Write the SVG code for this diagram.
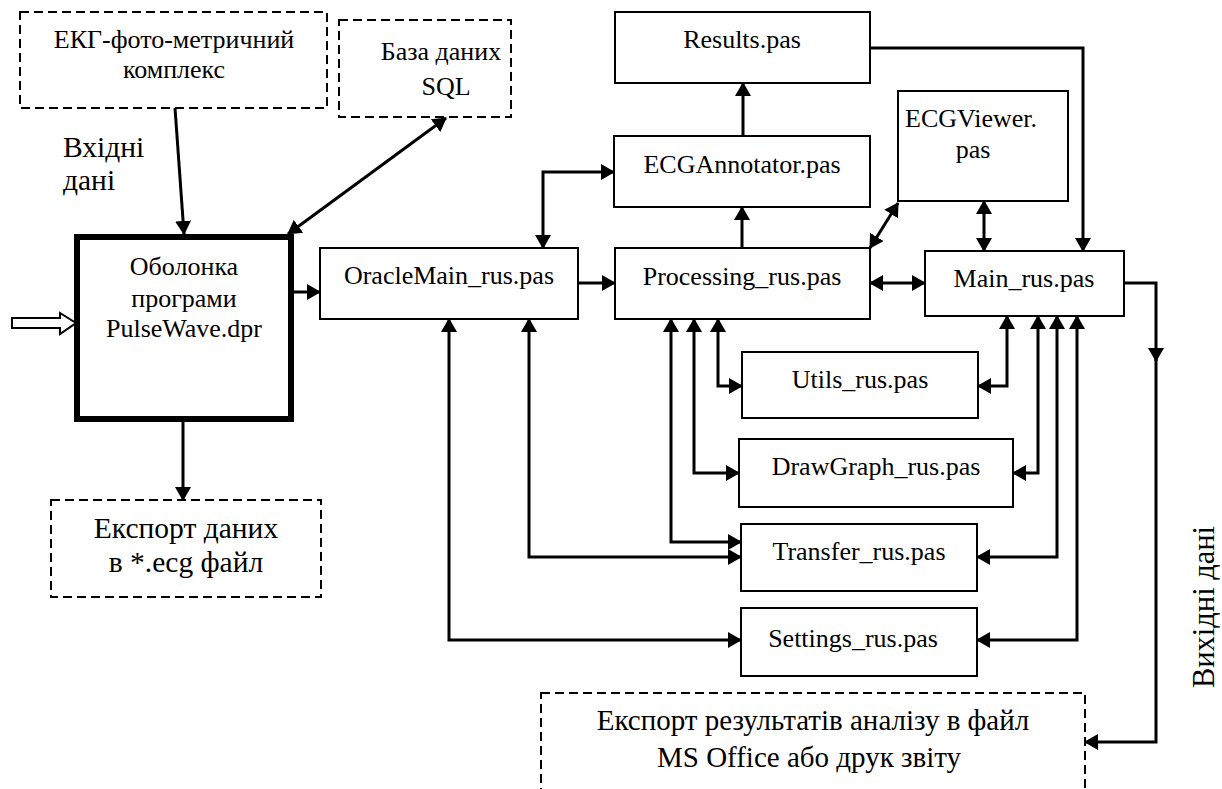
<svg xmlns="http://www.w3.org/2000/svg" width="1222" height="789" viewBox="0 0 1222 789">
<style>
.box{fill:#fff;stroke:#000;stroke-width:2}
.dash{fill:#fff;stroke:#000;stroke-width:2;stroke-dasharray:9 5}
.thick{fill:#fff;stroke:#000;stroke-width:6}
.t{font-family:"Liberation Serif","DejaVu Serif",serif;font-size:26px;fill:#000;text-anchor:middle}
.tl{font-family:"Liberation Serif","DejaVu Serif",serif;font-size:29.5px;fill:#000;text-anchor:middle}
.c{fill:none;stroke:#000;stroke-width:3}
</style>
<defs>
<marker id="ah" viewBox="0 0 14 16" refX="13" refY="8" markerWidth="14" markerHeight="16" markerUnits="userSpaceOnUse" orient="auto-start-reverse"><path d="M0,0 L14,8 L0,16 z" fill="#000"/></marker>
</defs>
<g id="ekg"><rect class="dash" x="20" y="12" width="307" height="96"/><text class="t" x="174" y="48">ЕКГ-фото-метричний</text><text class="t" x="174" y="78">комплекс</text></g>
<g id="db"><rect class="dash" x="339" y="20" width="172" height="97"/><text class="t" x="441" y="60">База даних</text><text class="t" x="446" y="95">SQL</text></g>
<g id="input-label"><text class="tl" x="63" y="157" style="text-anchor:start">Вхідні</text><text class="tl" x="63" y="190" style="text-anchor:start">дані</text></g>
<g id="shell"><rect class="thick" x="77" y="237" width="214" height="182"/><text class="t" x="184" y="275">Оболонка</text><text class="t" x="184" y="307">програми</text><text class="t" x="184" y="337">PulseWave.dpr</text></g>
<g id="input-arrow"><polygon points="12,318 60,318 60,313 76,323 60,334 60,328 12,328" fill="#fff" stroke="#000" stroke-width="2"/></g>
<g id="export-data"><rect class="dash" x="51" y="500" width="270" height="97"/><text class="tl" x="186" y="538">Експорт даних</text><text class="tl" x="186" y="572">в *.ecg файл</text></g>
<g id="oracle"><rect class="box" x="320" y="248" width="258" height="71"/><text class="t" x="449" y="284">OracleMain_rus.pas</text></g>
<g id="results"><rect class="box" x="615" y="12" width="255" height="71"/><text class="t" x="742" y="48">Results.pas</text></g>
<g id="annotator"><rect class="box" x="614" y="136" width="256" height="71"/><text class="t" x="742" y="173">ECGAnnotator.pas</text></g>
<g id="viewer"><rect class="box" x="898" y="91" width="170" height="110"/><text class="t" x="905" y="127" style="text-anchor:start">ECGViewer.</text><text class="t" x="973" y="158">pas</text></g>
<g id="processing"><rect class="box" x="615" y="248" width="255" height="71"/><text class="t" x="742" y="285">Processing_rus.pas</text></g>
<g id="main"><rect class="box" x="925" y="251" width="199" height="65"/><text class="t" x="1024" y="287">Main_rus.pas</text></g>
<g id="utils"><rect class="box" x="742" y="352" width="236" height="66"/><text class="t" x="860" y="388">Utils_rus.pas</text></g>
<g id="drawgraph"><rect class="box" x="739" y="439" width="274" height="68"/><text class="t" x="876" y="475">DrawGraph_rus.pas</text></g>
<g id="transfer"><rect class="box" x="741" y="524" width="236" height="67"/><text class="t" x="859" y="560">Transfer_rus.pas</text></g>
<g id="settings"><rect class="box" x="741" y="608" width="236" height="68"/><text class="t" x="853" y="647">Settings_rus.pas</text></g>
<g id="export-results"><rect class="dash" x="541" y="693" width="544" height="110"/><text class="tl" x="813" y="730" style="font-size:29px">Експорт результатів аналізу в файл</text><text class="tl" x="809" y="767" style="font-size:29px">MS Office або друк звіту</text></g>
<g id="output-label"><text class="tl" transform="translate(1214,607) rotate(-90)" style="font-size:30.5px">Вихідні дані</text></g>
<g id="connectors">
<path class="c" d="M175,108 L184,234" marker-end="url(#ah)"/>
<path class="c" d="M446,118 L288,234" marker-start="url(#ah)" marker-end="url(#ah)"/>
<path class="c" d="M294,292 H320" marker-end="url(#ah)"/>
<path class="c" d="M183,422 V500" marker-end="url(#ah)"/>
<path class="c" d="M578,283 H615" marker-end="url(#ah)"/>
<path class="c" d="M543,248 V172 H614" marker-start="url(#ah)" marker-end="url(#ah)"/>
<path class="c" d="M742,248 V207" marker-end="url(#ah)"/>
<path class="c" d="M743,136 V83" marker-end="url(#ah)"/>
<path class="c" d="M870,248 L898,203" marker-start="url(#ah)" marker-end="url(#ah)"/>
<path class="c" d="M984,201 V251" marker-start="url(#ah)" marker-end="url(#ah)"/>
<path class="c" d="M870,48 H1083 V251" marker-end="url(#ah)"/>
<path class="c" d="M870,283 H925" marker-start="url(#ah)" marker-end="url(#ah)"/>
<path class="c" d="M1124,283 H1156 V361" marker-end="url(#ah)"/>
<path class="c" d="M1156,355 V742 H1085" marker-end="url(#ah)"/>
<path class="c" d="M718,319 V386 H742" marker-start="url(#ah)" marker-end="url(#ah)"/>
<path class="c" d="M694,319 V473 H739" marker-start="url(#ah)" marker-end="url(#ah)"/>
<path class="c" d="M671,319 V542 H741" marker-start="url(#ah)" marker-end="url(#ah)"/>
<path class="c" d="M529,319 V557 H741" marker-start="url(#ah)" marker-end="url(#ah)"/>
<path class="c" d="M449,319 V640 H741" marker-start="url(#ah)" marker-end="url(#ah)"/>
<path class="c" d="M1007,316 V386 H978" marker-start="url(#ah)" marker-end="url(#ah)"/>
<path class="c" d="M1038,316 V473 H1013" marker-start="url(#ah)" marker-end="url(#ah)"/>
<path class="c" d="M1057,316 V557 H977" marker-start="url(#ah)" marker-end="url(#ah)"/>
<path class="c" d="M1077,316 V640 H977" marker-start="url(#ah)" marker-end="url(#ah)"/>
</g>
</svg>
